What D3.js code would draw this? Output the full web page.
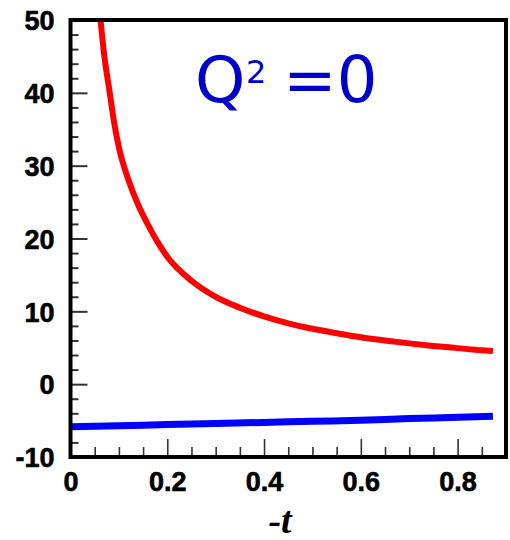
<!DOCTYPE html>
<html>
<head>
<meta charset="utf-8">
<script src="https://cdn.jsdelivr.net/npm/d3@7/dist/d3.min.js"></script>
<style>
  html, body { margin: 0; padding: 0; background: #fff; }
  svg { display: block; }
</style>
</head>
<body>
<script>
// Amplitude curves versus -t at Q^2 = 0
const tRed = [0.062, 0.07, 0.08, 0.09, 0.10, 0.12, 0.14, 0.16, 0.18, 0.20, 0.25, 0.30, 0.35, 0.40, 0.45, 0.50, 0.55, 0.60, 0.65, 0.70, 0.75, 0.80, 0.85, 0.873];
const redValues = [50, 45, 40.5, 36, 32.5, 28.0, 24.6, 21.9, 19.5, 17.5, 14.2, 12.0, 10.5, 9.3, 8.35, 7.6, 7.0, 6.45, 6.0, 5.6, 5.25, 4.95, 4.65, 4.55];

const tBlue = [0, 0.1, 0.2, 0.3, 0.4, 0.5, 0.6, 0.7, 0.8, 0.873];
const blueValues = [-5.85, -5.7, -5.55, -5.4, -5.25, -5.1, -4.95, -4.72, -4.55, -4.4];

const xTicks = [0, 0.2, 0.4, 0.6, 0.8];
const xTickLabels = ["0", "0.2", "0.4", "0.6", "0.8"];
const yTicks = [-10, 0, 10, 20, 30, 40, 50];
const yTickLabels = ["-10", "0", "10", "20", "30", "40", "50"];

const W = 510, H = 540;
const mLeft = 70.5, mRight = 506, mTop = 20, mBottom = 457;

const x = d3.scaleLinear().domain([0, 0.9]).range([mLeft, mRight]);
const y = d3.scaleLinear().domain([-10, 50]).range([mBottom, mTop]);

const svg = d3.select("body").append("svg").attr("width", W).attr("height", H);

svg.append("defs").append("clipPath").attr("id", "plot")
  .append("rect").attr("x", mLeft).attr("y", mTop).attr("width", mRight - mLeft).attr("height", mBottom - mTop);

const labelStyle = g => g
  .attr("font-family", "'Liberation Sans', Arial, sans-serif")
  .attr("font-weight", "bold").attr("font-size", 27)
  .attr("fill", "#000").attr("stroke", "#000").attr("stroke-width", 0.6);

// minor ticks
const xMinor = d3.range(0.05, 0.9, 0.05).filter(v => Math.abs(v / 0.2 - Math.round(v / 0.2)) > 1e-6);
const yMinor = d3.range(-8, 50, 2).filter(v => v % 10 !== 0);

svg.append("g").attr("transform", `translate(0,${mBottom})`)
  .call(d3.axisBottom(x).tickValues(xMinor).tickSize(-10).tickFormat(""))
  .call(g => g.select(".domain").remove())
  .call(g => g.selectAll("line").attr("stroke", "#333").attr("stroke-width", 1.6));

svg.append("g").attr("transform", `translate(${mLeft},0)`)
  .call(d3.axisLeft(y).tickValues(yMinor).tickSize(-8).tickFormat(""))
  .call(g => g.select(".domain").remove())
  .call(g => g.selectAll("line").attr("stroke", "#333").attr("stroke-width", 2));

// major ticks and labels
svg.append("g").attr("transform", `translate(0,${mBottom})`)
  .call(d3.axisBottom(x).tickValues(xTicks).tickSize(-18).tickPadding(15)
    .tickFormat((d, i) => xTickLabels[i]))
  .call(g => g.select(".domain").remove())
  .call(g => g.selectAll("line").attr("stroke", "#333").attr("stroke-width", 1.6))
  .call(g => g.selectAll("text").call(labelStyle));

svg.append("g").attr("transform", `translate(${mLeft},0)`)
  .call(d3.axisLeft(y).tickValues(yTicks).tickSize(-17).tickPadding(16)
    .tickFormat((d, i) => yTickLabels[i]))
  .call(g => g.select(".domain").remove())
  .call(g => g.selectAll("line").attr("stroke", "#333").attr("stroke-width", 2))
  .call(g => g.selectAll("text").call(labelStyle).attr("dy", "0.36em"));

// curves
const line = d3.line().curve(d3.curveMonotoneX);
const plot = svg.append("g").attr("clip-path", "url(#plot)");

plot.append("path")
  .attr("d", line(tRed.map((t, i) => [x(t), y(redValues[i])])))
  .attr("fill", "none").attr("stroke", "#ff0000").attr("stroke-width", 6);

plot.append("path")
  .attr("d", line(tBlue.map((t, i) => [x(t), y(blueValues[i])])))
  .attr("fill", "none").attr("stroke", "#0000ff").attr("stroke-width", 7);

// frame
svg.append("rect")
  .attr("x", mLeft).attr("y", mTop).attr("width", mRight - mLeft).attr("height", mBottom - mTop)
  .attr("fill", "none").attr("stroke", "#000").attr("stroke-width", 4);

// annotation
const ann = svg.append("g").attr("fill", "#0000cc")
  .attr("font-family", "'DejaVu Sans', Verdana, sans-serif");
ann.append("text").attr("x", 195).attr("y", 102).attr("font-size", 64).text("Q");
ann.append("text").attr("x", 246).attr("y", 83).attr("font-size", 32).text("2");
ann.append("text").attr("x", 283).attr("y", 102).attr("font-size", 64).text("=0");

// x axis title
svg.append("text")
  .attr("x", 280).attr("y", 533).attr("text-anchor", "middle")
  .attr("font-family", "'Liberation Serif', 'Times New Roman', serif")
  .attr("font-style", "italic").attr("font-weight", "bold").attr("font-size", 38)
  .text("-t");
</script>
</body>
</html>
